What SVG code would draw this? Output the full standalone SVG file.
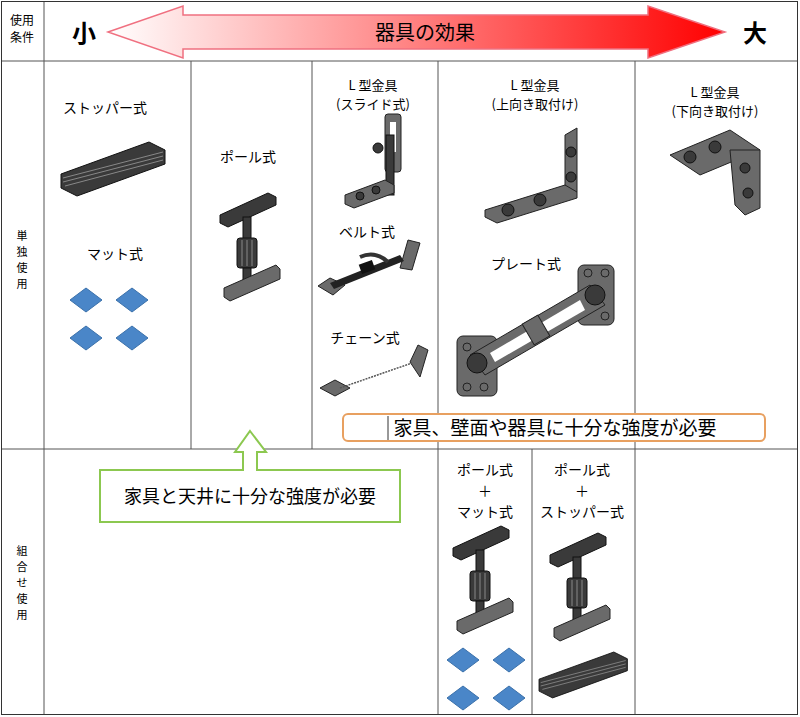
<svg xmlns="http://www.w3.org/2000/svg" xmlns:xlink="http://www.w3.org/1999/xlink" width="800" height="717" viewBox="0 0 800 717">
<style>
.t{font-family:"Noto Sans CJK JP","Liberation Sans",sans-serif;fill:#000;text-anchor:middle}
.g{stroke:#555;stroke-width:1;fill:none}
.dk{fill:#3a3a3a;stroke:#111;stroke-width:1}
.md{fill:#6a6a6a;stroke:#222;stroke-width:1}
.bl{fill:#4a86c8;stroke:#3a70aa;stroke-width:1}
</style>
<defs>
<linearGradient id="rg" x1="0" x2="1" y1="0" y2="0">
<stop offset="0" stop-color="#fff"/><stop offset="1" stop-color="#f00"/>
</linearGradient>
<g id="pole">
<polygon class="dk" points="0,22 48,0 56,4 56,12 8,34 0,30"/>
<rect class="dk" x="23" y="24" width="8" height="28"/>
<rect class="dk" x="17" y="45" width="20" height="30" rx="3"/>
<line x1="22" y1="47" x2="22" y2="73" stroke="#888"/><line x1="27" y1="47" x2="27" y2="73" stroke="#888"/><line x1="32" y1="47" x2="32" y2="73" stroke="#888"/>
<rect class="dk" x="23" y="75" width="8" height="22"/>
<polygon class="md" points="4,95 56,72 60,76 60,86 10,108 4,104"/>
</g>
<g id="mats">
<polygon class="bl" points="0,14 16,2 32,14 16,26"/>
<polygon class="bl" points="46,14 62,2 78,14 62,26"/>
<polygon class="bl" points="0,52 16,40 32,52 16,64"/>
<polygon class="bl" points="46,52 62,40 78,52 62,64"/>
</g>
<g id="stopper">
<polygon class="dk" points="0,32 88,0 104,8 104,22 16,54 0,46"/>
<line x1="2" y1="36" x2="102" y2="10" stroke="#888"/>
<line x1="2" y1="40" x2="102" y2="14" stroke="#888"/>
<line x1="4" y1="44" x2="102" y2="18" stroke="#888"/>
</g>
</defs>

<g id="grid" class="g">
<rect x="1.5" y="1.5" width="796" height="713" stroke="#333"/>
<line x1="44" y1="2" x2="44" y2="714"/>
<line x1="2" y1="61" x2="797" y2="61"/>
<line x1="2" y1="449" x2="797" y2="449"/>
<line x1="191" y1="61" x2="191" y2="449"/>
<line x1="312" y1="61" x2="312" y2="449"/>
<line x1="438" y1="61" x2="438" y2="714"/>
<line x1="532" y1="449" x2="532" y2="714"/>
<line x1="635" y1="61" x2="635" y2="714"/>
</g>

<g id="header">
<text class="t" x="22" y="25" font-size="12">使用</text>
<text class="t" x="22" y="42" font-size="12">条件</text>
<polygon points="108,32 183,6 183,15 648,15 648,6 725,32 648,58 648,49 183,49 183,58" fill="url(#rg)" stroke="#f07080" stroke-width="1.5"/>
<text class="t" x="84" y="42" font-size="24" font-weight="bold">小</text>
<text class="t" x="755" y="42" font-size="24" font-weight="bold">大</text>
<text class="t" x="425" y="40" font-size="20" fill="#333">器具の効果</text>
</g>

<g id="rowlabels">
<text class="t" x="22" y="240" font-size="11">単</text>
<text class="t" x="22" y="256" font-size="11">独</text>
<text class="t" x="22" y="272" font-size="11">使</text>
<text class="t" x="22" y="288" font-size="11">用</text>
<text class="t" x="22" y="555" font-size="11">組</text>
<text class="t" x="22" y="571" font-size="11">合</text>
<text class="t" x="22" y="587" font-size="11">せ</text>
<text class="t" x="22" y="603" font-size="11">使</text>
<text class="t" x="22" y="619" font-size="11">用</text>
</g>

<g id="stopper-node">
<text class="t" x="105" y="113" font-size="14">ストッパー式</text>
<use xlink:href="#stopper" transform="translate(61,142)"/>
</g>
<g id="mat-node">
<text class="t" x="115" y="259" font-size="14">マット式</text>
<use xlink:href="#mats" transform="translate(70,286)"/>
</g>
<g id="pole-node">
<text class="t" x="248" y="162" font-size="14">ポール式</text>
<use xlink:href="#pole" transform="translate(220,193)"/>
</g>

<g id="slide-node">
<text class="t" x="373" y="90" font-size="13">L 型金具</text>
<text class="t" x="373" y="109" font-size="13">(スライド式)</text>
<rect class="md" x="385" y="114" width="16" height="58" rx="3"/>
<rect x="390" y="122" width="6" height="30" fill="#fff"/>
<circle class="dk" cx="378" cy="148" r="5"/>
<rect class="dk" x="386" y="135" width="8" height="60"/>
<polygon class="md" points="345,195 385,180 394,185 394,193 354,208 345,204"/>
<circle class="dk" cx="360" cy="196" r="4"/><circle class="dk" cx="376" cy="190" r="4"/>
</g>

<g id="up-node">
<text class="t" x="535" y="90" font-size="13">L 型金具</text>
<text class="t" x="535" y="109" font-size="13">(上向き取付け)</text>
<polygon class="md" points="565,135 577,128 577,192 565,198"/>
<circle class="dk" cx="571" cy="152" r="5"/><circle class="dk" cx="571" cy="177" r="5"/>
<polygon class="md" points="485,210 565,185 577,192 577,198 497,223 485,217"/>
<circle class="dk" cx="508" cy="210" r="6"/><circle class="dk" cx="540" cy="200" r="6"/>
</g>

<g id="down-node">
<text class="t" x="715" y="97" font-size="13">L 型金具</text>
<text class="t" x="715" y="116" font-size="13">(下向き取付け)</text>
<polygon class="md" points="670,155 730,130 760,150 700,175"/>
<circle class="dk" cx="690" cy="157" r="6"/><circle class="dk" cx="715" cy="147" r="6"/>
<polygon class="md" points="730,150 760,150 760,208 745,215 735,205"/>
<circle class="dk" cx="745" cy="168" r="5"/><circle class="dk" cx="748" cy="193" r="5"/>
</g>

<g id="belt-node">
<text class="t" x="367" y="237" font-size="14">ベルト式</text>
<polygon class="md" points="318,286 330,278 345,285 333,295"/>
<polygon class="md" points="400,268 408,240 420,243 412,270"/>
<polygon fill="#222" points="330,283 400,255 404,261 334,289"/>
<rect x="360" y="262" width="14" height="10" fill="#111" transform="rotate(-20 367 267)"/>
<path d="M360,257 Q375,250 388,262" stroke="#333" stroke-width="4" fill="none"/>
</g>

<g id="chain-node">
<text class="t" x="365" y="343" font-size="14">チェーン式</text>
<polygon class="md" points="320,388 335,380 350,388 335,396"/>
<polygon class="md" points="410,362 418,345 428,350 420,377"/>
<line x1="340" y1="388" x2="412" y2="363" stroke="#555" stroke-width="1.5" stroke-dasharray="2,1"/>
</g>

<g id="plate-node">
<text class="t" x="526" y="269" font-size="14">プレート式</text>
<rect class="md" x="457" y="336" width="40" height="60" rx="6"/>
<rect class="md" x="578" y="265" width="36" height="60" rx="6"/>
<polygon class="md" points="470,355 590,285 605,305 485,375"/>
<polygon fill="#fff" points="490,353 580,300 585,310 495,362"/>
<rect class="md" x="527" y="318" width="18" height="24" transform="rotate(-30 536 330)"/>
<circle class="dk" cx="477" cy="363" r="10"/>
<circle class="dk" cx="595" cy="295" r="10"/>
<g class="md"><circle cx="467" cy="347" r="4"/><circle cx="467" cy="387" r="4"/><circle cx="484" cy="387" r="4"/><circle cx="588" cy="273" r="4"/><circle cx="605" cy="273" r="4"/><circle cx="605" cy="316" r="4"/></g>
</g>

<g id="note-orange">
<rect x="343" y="414" width="422" height="27" rx="5" fill="#fff" stroke="#e8a060" stroke-width="2"/>
<line x1="388" y1="416" x2="388" y2="440" stroke="#333"/>
<text class="t" x="555" y="435" font-size="19">家具、壁面や器具に十分な強度が必要</text>
</g>

<g id="note-green">
<polygon points="250,431 266,452 257,452 257,470 243,470 243,452 235,452" fill="#fff" stroke="#8cc850" stroke-width="2"/>
<rect x="100" y="470" width="300" height="52" fill="#fff" stroke="#8cc850" stroke-width="2"/>
<line x1="244" y1="470" x2="256" y2="470" stroke="#fff" stroke-width="3"/>
<text class="t" x="250" y="503" font-size="18">家具と天井に十分な強度が必要</text>
</g>

<g id="combo-mat">
<text class="t" x="485" y="475" font-size="14">ポール式</text>
<text class="t" x="485" y="496" font-size="14">＋</text>
<text class="t" x="485" y="517" font-size="14">マット式</text>
<use xlink:href="#pole" transform="translate(453,526)"/>
<use xlink:href="#mats" transform="translate(447,646)"/>
</g>
<g id="combo-stopper">
<text class="t" x="582" y="475" font-size="14">ポール式</text>
<text class="t" x="582" y="496" font-size="14">＋</text>
<text class="t" x="582" y="517" font-size="14">ストッパー式</text>
<use xlink:href="#pole" transform="translate(550,533)"/>
<use xlink:href="#stopper" transform="translate(539,652) scale(0.85)"/>
</g>
</svg>
